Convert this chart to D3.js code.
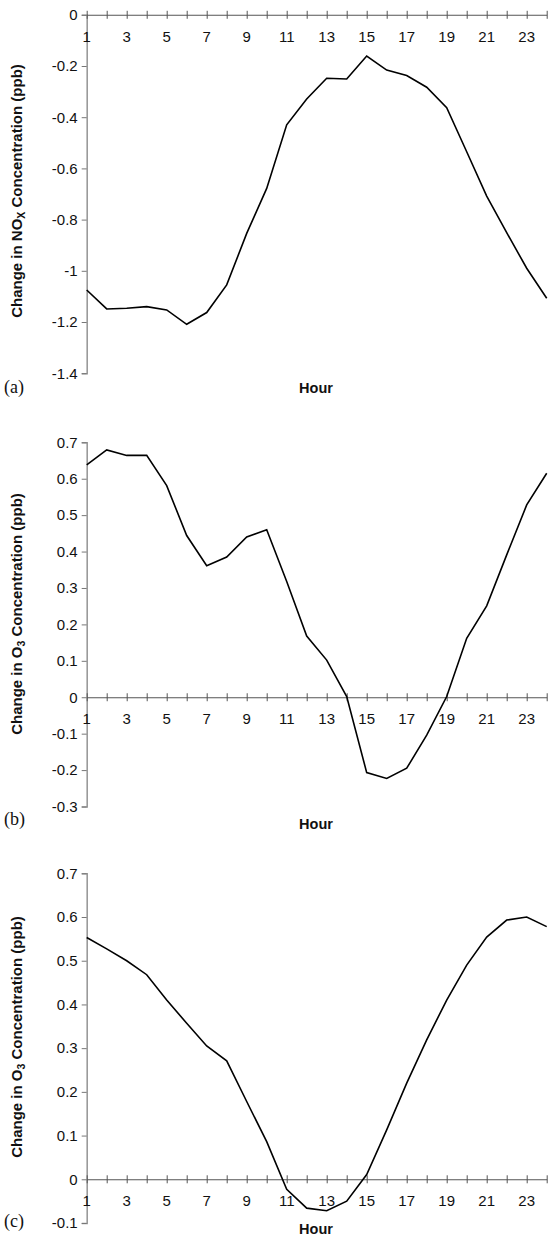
<!DOCTYPE html>
<html><head><meta charset="utf-8">
<script src="https://cdn.jsdelivr.net/npm/d3@7"></script>
<style>body{margin:0;background:#fff}svg{display:block}</style>
</head><body><svg id="c" width="550" height="1238"></svg>
<script>
const hours = d3.range(1, 25);
const hourLabels = [1,3,5,7,9,11,13,15,17,19,21,23];
const noxChange = [-1.075,-1.149,-1.146,-1.14,-1.153,-1.209,-1.163,-1.055,-0.854,-0.678,-0.43,-0.329,-0.248,-0.251,-0.161,-0.216,-0.237,-0.283,-0.363,-0.535,-0.708,-0.851,-0.99,-1.107];
const o3ChangeB = [0.638,0.679,0.664,0.664,0.581,0.444,0.361,0.385,0.44,0.46,0.318,0.168,0.102,0.002,-0.207,-0.223,-0.195,-0.104,0.002,0.162,0.251,0.391,0.528,0.615];
const o3ChangeC = [0.553,0.527,0.5,0.468,0.41,0.357,0.305,0.271,0.178,0.086,-0.023,-0.066,-0.072,-0.05,0.011,0.113,0.22,0.319,0.41,0.49,0.554,0.593,0.6,0.578];
const ticksA = [0,-0.2,-0.4,-0.6,-0.8,-1,-1.2,-1.4];
const ticksB = [0.7,0.6,0.5,0.4,0.3,0.2,0.1,0,-0.1,-0.2,-0.3];
const ticksC = [0.7,0.6,0.5,0.4,0.3,0.2,0.1,0,-0.1];

const panels = [
  {data: noxChange, ticks: ticksA, domain: [-1.4, 0], range: [373.2, 14.8], sub: "X", pre: "Change in NO", tag: "(a)", tagY: 393, hourY: 393, titleY: 191},
  {data: o3ChangeB, ticks: ticksB, domain: [-0.3, 0.7], range: [806.5, 442.3], sub: "3", pre: "Change in O", tag: "(b)", tagY: 825, hourY: 829, titleY: 614},
  {data: o3ChangeC, ticks: ticksC, domain: [-0.1, 0.7], range: [1223, 873.3], sub: "3", pre: "Change in O", tag: "(c)", tagY: 1227, hourY: 1234, titleY: 1037}
];

const SANS = "'Liberation Sans', Arial, Helvetica, sans-serif";
const svg = d3.select("#c");
const x = d3.scaleLinear().domain([1, 24]).range([86.7, 546.7]);
const fmt = v => String(+v.toFixed(1));

panels.forEach(p => {
  const y = d3.scaleLinear().domain(p.domain).range(p.range);
  const g = svg.append("g");
  // y axis
  const ya = d3.axisLeft(y).tickValues(p.ticks).tickSize(5).tickPadding(4).tickFormat(fmt);
  const yg = g.append("g").attr("transform", `translate(${x(1)},0)`).call(ya);
  yg.select(".domain").attr("stroke", "#9a9a9a").attr("stroke-width", 1.6);
  yg.selectAll(".tick line").attr("stroke", "#777");
  yg.selectAll("text").attr("font-family", SANS).attr("font-size", 15).attr("fill", "#111");
  // x axis at zero
  const y0 = y(0);
  const xa = d3.axisBottom(x).tickValues(hours).tickSize(0).tickFormat("");
  const xg = g.append("g").attr("transform", `translate(0,${y0})`).call(xa);
  xg.select(".domain").attr("stroke", "#555").attr("stroke-width", 1.1);
  xg.selectAll(".tick").append("line").attr("y1", -4).attr("y2", 4).attr("stroke", "#555");
  g.append("g").selectAll("text").data(hourLabels).join("text")
    .attr("x", d => x(d)).attr("y", y0 + 27).attr("text-anchor", "middle")
    .attr("font-family", SANS).attr("font-size", 15).attr("fill", "#111")
    .text(d => d);
  // line
  const line = d3.line().x((d, i) => x(hours[i])).y(d => y(d));
  g.append("path").datum(p.data).attr("d", line).attr("fill", "none").attr("stroke", "#000").attr("stroke-width", 1.6).attr("stroke-linejoin", "miter");
  // y title
  const t = g.append("text").attr("transform", `translate(21.5,${p.titleY}) rotate(-90)`)
    .attr("text-anchor", "middle").attr("font-family", SANS)
    .attr("font-weight", "bold").attr("font-size", 15).attr("fill", "#111");
  t.append("tspan").text(p.pre);
  t.append("tspan").attr("font-size", 10.5).attr("dy", 3).text(p.sub);
  t.append("tspan").attr("dy", -3).text(" Concentration (ppb)");
  // hour title
  g.append("text").attr("x", 316).attr("y", p.hourY).attr("text-anchor", "middle")
    .attr("font-family", SANS).attr("font-weight", "bold").attr("font-size", 14.5).attr("fill", "#111").text("Hour");
  // panel tag
  g.append("text").attr("x", 4).attr("y", p.tagY).attr("font-family", "'Liberation Serif', 'Times New Roman', serif")
    .attr("font-size", 18).attr("fill", "#111").text(p.tag);
});
</script></body></html>
